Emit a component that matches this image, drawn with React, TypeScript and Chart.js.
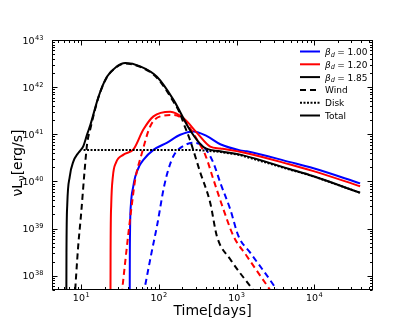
import React, { useEffect, useRef } from 'react';
import { Chart, registerables } from 'chart.js';

Chart.register(...registerables);

// ---- axis ranges / ticks ----
const X_MIN = 4.2;
const X_MAX = 5.7e4;
const Y_MIN = 5.0e37;
const Y_MAX = 1e43;
const xMajorExps = [1, 2, 3, 4];
const yMajorExps = [38, 39, 40, 41, 42, 43];

// ---- data: time in days, luminosity as log10(nuL_nu [erg/s]) ----
const blackTotalT = [6.4, 6.45, 6.6, 7.1, 7.9, 9.1, 10.0, 10.7, 11.9, 13.1, 16.7, 21.4, 28.2, 36.8, 57.4, 94.2, 154, 253, 375, 615, 1112, 4900, 9772, 38900];
const blackTotalL = [36.5, 38.5, 39.5, 40.1, 40.42, 40.6, 40.68, 40.76, 41.0, 41.2, 41.8, 42.22, 42.43, 42.51, 42.44, 42.22, 41.73, 41.08, 40.73, 40.64, 40.57, 40.26, 40.11, 39.76];

const blackWindT = [8.2, 9.1, 10.0, 11.0, 11.9, 13.1, 16.7, 21.4, 28.2, 36.8, 57.4, 94.2, 154, 186, 207, 251, 339, 457, 557, 828, 1496, 2500];
const blackWindL = [37.5, 38.6, 39.35, 40.2, 40.8, 41.12, 41.79, 42.21, 42.42, 42.5, 42.43, 42.2, 41.69, 41.45, 41.24, 40.88, 40.2, 39.55, 38.84, 38.35, 37.78, 37.3];

const diskT = [10.7, 300, 600, 1112, 4900, 9772, 38900];
const diskL = [40.67, 40.67, 40.63, 40.56, 40.25, 40.11, 39.76];

const redTotalT = [23.7, 23.85, 24.3, 25.5, 28, 35, 47, 63, 85, 140, 208, 309, 457, 616, 1350, 4900, 9772, 38900];
const redTotalL = [36.5, 38.5, 39.5, 40.1, 40.4, 40.57, 40.68, 41.1, 41.38, 41.48, 41.34, 41.03, 40.74, 40.70, 40.60, 40.36, 40.22, 39.90];

const redWindT = [33.1, 39.8, 44.7, 49.5, 60.3, 77.3, 104, 155, 208, 309, 398, 501, 676, 912, 1350, 2570, 4000];
const redWindL = [37.6, 38.8, 39.5, 40.04, 40.6, 41.17, 41.38, 41.41, 41.31, 40.89, 40.55, 40.05, 39.41, 38.84, 38.42, 37.75, 37.3];

const blueTotalT = [41.9, 42.2, 43.5, 46.8, 49.5, 56, 63, 85, 126, 188, 279, 415, 616, 1112, 1350, 4900, 9772, 38900];
const blueTotalL = [36.5, 38.5, 39.5, 39.9, 40.1, 40.33, 40.46, 40.67, 40.82, 40.99, 41.06, 40.96, 40.79, 40.66, 40.64, 40.41, 40.28, 39.96];

const blueWindT = [63.1, 79.4, 95.5, 115, 132, 155, 200, 279, 375, 501, 617, 828, 1057, 1496, 3141, 5000];
const blueWindL = [37.6, 38.45, 39.1, 39.85, 40.25, 40.55, 40.74, 40.82, 40.74, 40.40, 39.97, 39.41, 38.84, 38.49, 37.75, 37.2];

// ---- legend ----
const legendBetas = ['1.00', '1.20', '1.85'];
const legendColors = ['#0000ff', '#ff0000', '#000000'];
const legendStyles = ['Wind', 'Disk', 'Total'];

const FONT = '"DejaVu Sans", "Liberation Sans", sans-serif';
const DASH = [6, 4];
const DOT = [2, 1.5];

function pts(t: number[], l: number[]) {
  return t.map((x, i) => ({ x, y: Math.pow(10, l[i]) }));
}

function drawPow(ctx: CanvasRenderingContext2D, x: number, y: number, exp: string, align: 'center' | 'right', size: number) {
  const f1 = `${size}px ${FONT}`;
  const f2 = `${(size * 0.7).toFixed(2)}px ${FONT}`;
  ctx.font = f1;
  const w1 = ctx.measureText('10').width;
  ctx.font = f2;
  const w2 = ctx.measureText(exp).width;
  const total = w1 + w2 + 0.5;
  const x0 = align === 'center' ? x - total / 2 : x - total;
  ctx.textAlign = 'left';
  ctx.textBaseline = 'alphabetic';
  ctx.font = f1;
  ctx.fillText('10', x0, y);
  ctx.font = f2;
  ctx.fillText(exp, x0 + w1 + 0.5, y - size * 0.42);
}

const decoPlugin = {
  id: 'deco',
  afterDraw(chart: any) {
    const { ctx, chartArea: a, scales } = chart;
    const xs = scales.x;
    const ys = scales.y;
    const L = Math.round(a.left) + 0.5;
    const R = Math.round(a.right) - 0.5;
    const T = Math.round(a.top) + 0.5;
    const B = Math.round(a.bottom) - 0.5;
    ctx.save();
    ctx.strokeStyle = '#000';
    ctx.fillStyle = '#000';
    ctx.lineWidth = 1;
    ctx.setLineDash([]);
    ctx.strokeRect(L, T, R - L, B - T);
    const tick = (isX: boolean, v: number, len: number) => {
      if (isX) {
        const p = Math.round(xs.getPixelForValue(v)) + 0.5;
        ctx.beginPath();
        ctx.moveTo(p, B); ctx.lineTo(p, B - len);
        ctx.moveTo(p, T); ctx.lineTo(p, T + len);
        ctx.stroke();
      } else {
        const p = Math.round(ys.getPixelForValue(v)) + 0.5;
        ctx.beginPath();
        ctx.moveTo(L, p); ctx.lineTo(L + len, p);
        ctx.moveTo(R, p); ctx.lineTo(R - len, p);
        ctx.stroke();
      }
    };
    for (let n = 0; n <= 4; n++) {
      for (let k = 1; k <= 9; k++) {
        const v = k * Math.pow(10, n);
        if (v < X_MIN || v > X_MAX) continue;
        tick(true, v, k === 1 ? 5 : 2.5);
      }
    }
    for (let n = 37; n <= 43; n++) {
      for (let k = 1; k <= 9; k++) {
        const v = k * Math.pow(10, n);
        if (v < Y_MIN || v > Y_MAX * 1.0001) continue;
        tick(false, v, k === 1 ? 5 : 2.5);
      }
    }
    xMajorExps.forEach((e) => {
      const p = xs.getPixelForValue(Math.pow(10, e));
      drawPow(ctx, p, B + 11, String(e), 'center', 9.5);
    });
    yMajorExps.forEach((e) => {
      const p = ys.getPixelForValue(Math.pow(10, e));
      drawPow(ctx, L - 9, p + 3.5, String(e), 'right', 9.5);
    });
    ctx.font = `14px ${FONT}`;
    ctx.textAlign = 'center';
    ctx.textBaseline = 'alphabetic';
    ctx.fillText('Time[days]', (L + R) / 2, 315);
    ctx.save();
    ctx.translate(22, 163);
    ctx.rotate(-Math.PI / 2);
    const big = `14px ${FONT}`;
    const small = `10px ${FONT}`;
    ctx.font = big;
    const wA = ctx.measureText('νL').width;
    const wC = ctx.measureText('[erg/s]').width;
    ctx.font = small;
    const wB = ctx.measureText('ν').width;
    const tot = wA + wB + wC;
    let cx = -tot / 2;
    ctx.textAlign = 'left';
    ctx.font = big;
    ctx.fillText('νL', cx, 0);
    cx += wA;
    ctx.font = small;
    ctx.fillText('ν', cx, 3);
    cx += wB;
    ctx.font = big;
    ctx.fillText('[erg/s]', cx, 0);
    ctx.restore();
    // legend
    const lx0 = 300, lx1 = 320, tx = 325;
    const rowY = [51.5, 64.3, 77.1, 89.9, 102.7, 115.5];
    ctx.lineWidth = 2;
    legendBetas.forEach((b, i) => {
      const y = rowY[i];
      ctx.strokeStyle = legendColors[i];
      ctx.setLineDash([]);
      ctx.beginPath();
      ctx.moveTo(lx0, y); ctx.lineTo(lx1, y); ctx.stroke();
      ctx.fillStyle = '#000';
      ctx.textAlign = 'left';
      ctx.font = `italic 9px ${FONT}`;
      ctx.fillText('β', tx, y + 3.5);
      const wb = ctx.measureText('β').width;
      ctx.font = `italic 6.5px ${FONT}`;
      ctx.fillText('d', tx + wb, y + 5);
      const wd = ctx.measureText('d').width;
      ctx.font = `9px ${FONT}`;
      let px = tx + wb + wd + 2.5;
      ctx.fillText('=', px, y + 3.5);
      px += ctx.measureText('=').width + 2.5;
      ctx.fillText(b, px, y + 3.5);
    });
    legendStyles.forEach((s, j) => {
      const y = rowY[3 + j];
      ctx.strokeStyle = '#000';
      ctx.setLineDash(j === 0 ? DASH : j === 1 ? DOT : []);
      ctx.beginPath();
      ctx.moveTo(lx0, y); ctx.lineTo(lx1, y); ctx.stroke();
      ctx.setLineDash([]);
      ctx.font = `9px ${FONT}`;
      ctx.fillText(s, tx, y + 3.5);
    });
    ctx.restore();
  },
};

function ds(t: number[], l: number[], color: string, dash: number[], mono = true) {
  return {
    data: pts(t, l),
    borderColor: color,
    backgroundColor: color,
    borderWidth: 2,
    borderDash: dash,
    pointRadius: 0,
    fill: false,
    clip: 0,
    cubicInterpolationMode: mono ? 'monotone' : 'default',
    tension: mono ? 0.4 : 0,
  };
}

export default function App() {
  const ref = useRef<HTMLCanvasElement | null>(null);
  useEffect(() => {
    if (!ref.current) return;
    const chart = new Chart(ref.current, {
      type: 'line',
      data: {
        datasets: [
          ds(blackTotalT, blackTotalL, '#000000', []),
          ds(blackWindT, blackWindL, '#000000', DASH),
          ds(diskT, diskL, '#000000', DOT, false),
          ds(redTotalT, redTotalL, '#ff0000', []),
          ds(redWindT, redWindL, '#ff0000', DASH),
          ds(blueTotalT, blueTotalL, '#0000ff', []),
          ds(blueWindT, blueWindL, '#0000ff', DASH),
        ] as any,
      },
      options: {
        responsive: false,
        animation: false,
        devicePixelRatio: 1,
        events: [],
        layout: { padding: { left: 52, top: 40, right: 42, bottom: 42 } },
        plugins: { legend: { display: false }, tooltip: { enabled: false } },
        scales: {
          x: { type: 'logarithmic', min: X_MIN, max: X_MAX, display: false },
          y: { type: 'logarithmic', min: Y_MIN, max: Y_MAX, display: false },
        },
      } as any,
      plugins: [decoPlugin],
    });
    return () => chart.destroy();
  }, []);
  return (
    <div style={{ position: 'absolute', left: 0, top: 0, width: 415, height: 332, background: '#fff' }}>
      <canvas ref={ref} width={415} height={332} style={{ display: 'block' }} />
    </div>
  );
}
